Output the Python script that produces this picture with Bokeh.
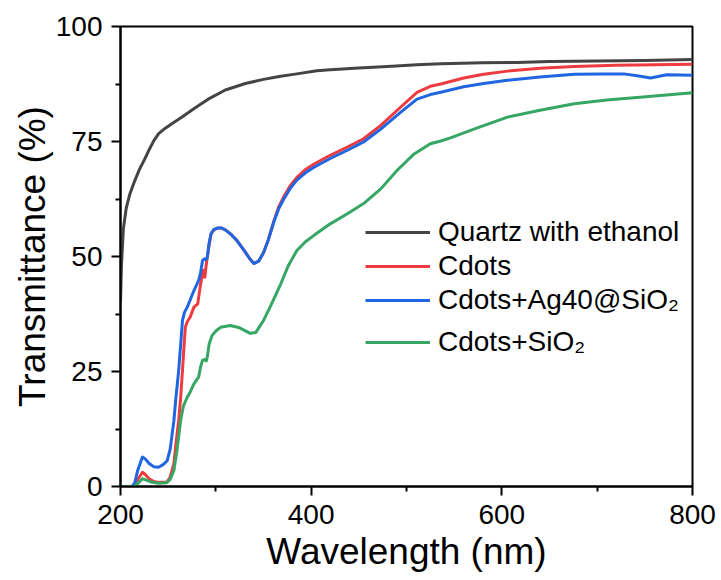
from bokeh.plotting import figure
from bokeh.models import Range1d, Legend, LegendItem, FixedTicker
from bokeh.embed import file_html
from bokeh.resources import INLINE

# ---- data (wavelength nm, transmittance %) ----
quartz = [(200, 40), (201, 48), (203, 56), (206, 60.5), (210, 63.7), (215, 66.5), (220, 69),
          (225, 71), (230, 73.2), (235, 75.2), (240, 76.7), (247, 77.9), (255, 79), (265, 80.4),
          (278, 82.3), (292, 84.2), (310, 86.2), (331, 87.6), (350, 88.5), (368, 89.2),
          (385, 89.7), (406, 90.4), (420, 90.6), (450, 91), (480, 91.3), (511, 91.7),
          (536, 91.9), (580, 92.1), (616, 92.2), (650, 92.4), (700, 92.5), (750, 92.6),
          (800, 92.8)]

cdots = [(200, 0), (212, 0), (216, 0.5), (219, 1.8), (223, 3.1), (226, 2.6), (230, 1.7),
         (235, 1.1), (240, 0.9), (245, 0.9), (249, 1.0), (252, 2.0), (256, 4.9), (258, 9.0),
         (261, 14.3), (263, 19.0), (265, 25.2), (266.5, 30.0), (268, 34.6), (270, 35.8),
         (273, 36.8), (277, 39.0), (281, 39.7), (284, 44.0), (287, 47.0), (288.5, 45.5),
         (289.5, 47.5), (291, 49.8), (293, 52.5), (295, 54.9), (298, 55.8), (302, 56.2),
         (306, 56.2), (310, 55.8), (316, 54.8), (322, 53.5), (330, 51.2), (336, 49.4),
         (340, 48.5), (345, 49.0), (350, 50.8), (355, 53.6), (361, 57.8), (366, 60.8),
         (371, 62.9), (378, 65.4), (385, 67.2), (394, 68.9), (403, 70.1), (420, 72.0),
         (438, 73.8), (455, 75.6), (473, 78.5), (494, 82.5), (511, 85.7), (525, 87.0),
         (536, 87.5), (560, 88.8), (581, 89.6), (606, 90.3), (640, 90.9), (676, 91.3),
         (720, 91.6), (760, 91.7), (800, 91.8)]

cdots_ag = [(200, 0), (212, 0), (215, 0.8), (218, 3.5), (223, 6.4), (226, 6.0), (230, 5.0),
            (235, 4.3), (240, 4.2), (245, 4.8), (249, 5.6), (252, 8.0), (256, 14.3),
            (258, 19.0), (261, 25.2), (263, 30.5), (265, 36.1), (267, 37.8), (270, 39.0),
            (273, 40.5), (277, 42.6), (282, 44.8), (284, 46.5), (286, 49.1), (288, 49.5),
            (289.5, 49.3), (291, 49.8), (293, 53.0), (295, 55.0), (298, 55.9), (302, 56.2),
            (306, 56.2), (310, 55.8), (316, 54.8), (322, 53.5), (330, 51.2), (336, 49.4),
            (340, 48.5), (345, 49.0), (350, 50.8), (355, 53.6), (361, 57.6), (366, 60.4),
            (371, 62.4), (378, 64.8), (385, 66.6), (394, 68.2), (403, 69.4), (420, 71.3),
            (438, 73.1), (455, 74.9), (473, 77.7), (494, 81.4), (511, 84.2), (525, 85.2),
            (536, 85.7), (560, 86.9), (581, 87.6), (606, 88.3), (640, 89.0), (676, 89.6),
            (705, 89.7), (728, 89.7), (742, 89.3), (756, 88.8), (773, 89.5), (800, 89.4)]

cdots_si = [(200, 0), (214, 0), (218, 0.6), (223, 1.7), (227, 1.4), (232, 1.0), (240, 0.7),
            (248, 0.8), (252, 1.5), (256, 3.5), (259, 7.5), (263, 14.3), (266, 17.5),
            (270, 19.4), (273, 20.5), (277, 22.3), (282, 23.8), (284, 26.0), (286, 27.4),
            (288, 27.6), (290, 27.3), (291, 28.1), (293, 31.0), (296, 32.8), (300, 33.8),
            (305, 34.6), (315, 35.0), (325, 34.5), (336, 33.3), (342, 33.5), (350, 36.1),
            (356, 38.6), (362, 41.3), (368, 44.0), (376, 48.0), (385, 51.3), (394, 53.2),
            (403, 54.6), (420, 57.1), (438, 59.3), (455, 61.5), (473, 64.7), (490, 68.7),
            (508, 72.3), (525, 74.5), (536, 75.1), (546, 75.8), (575, 78.0), (606, 80.3),
            (640, 81.8), (676, 83.2), (710, 84.0), (745, 84.6), (800, 85.6)]

series_labels = ["Quartz with ethanol", "Cdots", "Cdots+Ag40@SiO\u2082", "Cdots+SiO\u2082"]
series_colors = ["#444444", "#EE3B40", "#1F66E0", "#35A663"]
x_ticks = [200, 400, 600, 800]
x_minor = [300, 500, 700]
y_ticks = [0, 25, 50, 75, 100]
y_minor = [12.5, 37.5, 62.5, 87.5]

FONT = "Liberation Sans"

p = figure(width=721, height=580, output_backend="svg", toolbar_location=None,
           x_range=Range1d(200, 800), y_range=Range1d(0, 100),
           min_border_left=120, min_border_right=29, min_border_top=26, min_border_bottom=94)

p.xgrid.visible = False
p.ygrid.visible = False
p.outline_line_color = "black"
p.outline_line_width = 2
p.outline_line_alpha = 1
p.background_fill_color = "white"
p.border_fill_color = "white"

p.xaxis.ticker = FixedTicker(ticks=x_ticks, minor_ticks=x_minor)
p.yaxis.ticker = FixedTicker(ticks=y_ticks, minor_ticks=y_minor)
p.xaxis.axis_label = "Wavelength (nm)"
p.yaxis.axis_label = "Transmittance (%)"

for ax in (p.xaxis[0], p.yaxis[0]):
    ax.axis_line_width = 2
    ax.axis_line_color = "black"
    ax.major_tick_line_width = 2
    ax.minor_tick_line_width = 2
    ax.major_tick_line_color = "black"
    ax.minor_tick_line_color = "black"
    ax.major_tick_in = 0
    ax.major_tick_out = 9
    ax.minor_tick_in = 0
    ax.minor_tick_out = 5
    ax.major_label_text_font = FONT
    ax.major_label_text_font_size = "28px"
    ax.major_label_text_color = "black"
    ax.axis_label_text_font = FONT
    ax.axis_label_text_font_size = "37px"
    ax.axis_label_text_font_style = "normal"
    ax.axis_label_text_color = "black"

p.xaxis.major_label_standoff = 9
p.xaxis.axis_label_standoff = 4
p.yaxis.major_label_standoff = 9
p.yaxis.axis_label_standoff = 0

renderers = []
for data, color in zip([quartz, cdots, cdots_ag, cdots_si], series_colors):
    xs = [d[0] for d in data]
    ys = [d[1] for d in data]
    r = p.line(xs, ys, line_color=color, line_width=3, line_join="round")
    renderers.append(r)

# one legend per row so the row positions match the reference
row_bottoms = [238, 204, 170, 128]
for r, lab, yb in zip(renderers, series_labels, row_bottoms):
    lg = Legend(items=[LegendItem(label=lab, renderers=[r])], location=(245, yb),
                padding=0, margin=0, spacing=0, glyph_width=65, glyph_height=30,
                label_height=30, label_standoff=8,
                label_text_font=FONT, label_text_font_size="28px", label_text_color="black",
                border_line_alpha=0, background_fill_alpha=0)
    p.add_layout(lg)

open("out.html", "w").write(file_html(p, INLINE))
